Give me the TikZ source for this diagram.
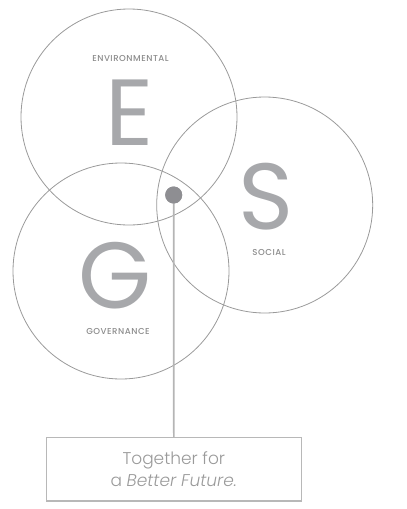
\documentclass[tikz,border=0pt]{standalone}
\usepackage{fontspec}
\setmainfont{Poppins}
\newfontfamily\bigfont{Poppins}
\newfontfamily\lightfont{Poppins Light}
\newfontfamily\medfont[LetterSpace=6]{Poppins Medium}
\definecolor{circ}{HTML}{9A9A9A}
\definecolor{letter}{HTML}{A7A8AB}
\definecolor{lab}{HTML}{8C8C8C}
\definecolor{dotc}{HTML}{8E8E92}
\definecolor{stem}{HTML}{B5B5B5}
\definecolor{boxc}{HTML}{B8B8B8}
\definecolor{boxt}{HTML}{9A9A9A}
\begin{document}
\begin{tikzpicture}[x=1pt,y=-1pt,
  ring/.style={draw=circ,line width=0.8pt,circle,minimum size=216pt,inner sep=0pt},
  bigletter/.style={anchor=base,inner sep=0pt,text height=66pt,text depth=0pt,text=letter,font=\bigfont\fontsize{94}{94}\selectfont},
  cat/.style={inner sep=0pt,text height=6pt,text depth=0pt,text=lab,font=\medfont\fontsize{8.6}{8.6}\selectfont},
  slogan/.style={draw=boxc,line width=1.2pt,minimum width=255pt,minimum height=63.3pt,inner sep=0pt,
     align=center,text=boxt,font=\lightfont\fontsize{17}{22}\selectfont},
  hub/.style={circle,fill=dotc,minimum size=17pt,inner sep=0pt},
  stemline/.style={draw=stem,line width=1.6pt}]
\useasboundingbox (0,0) rectangle (407,509);
\node[ring] (cE) at (129,117) {};
\node[ring] (cS) at (264.7,205) {};
\node[ring] (cG) at (121,271) {};
\node[bigletter] (E) at (129.5,145) {E};
\node[bigletter] (S) at (266.5,229) {S};
\node[bigletter] (G) at (115,308) {G};
\node[cat] (lE) at (130.5,58) {ENVIRONMENTAL};
\node[cat] (lS) at (269,252) {SOCIAL};
\node[cat] (lG) at (118,331) {GOVERNANCE};
\node[slogan] (box) at (173.8,469.35) {Together for\\a \textit{Better Future.}};
\node[hub] (dot) at (173.7,195) {};
\draw[stemline] (dot.center) -- (box.north);
\node[hub] at (dot) {};
\end{tikzpicture}
\end{document}
